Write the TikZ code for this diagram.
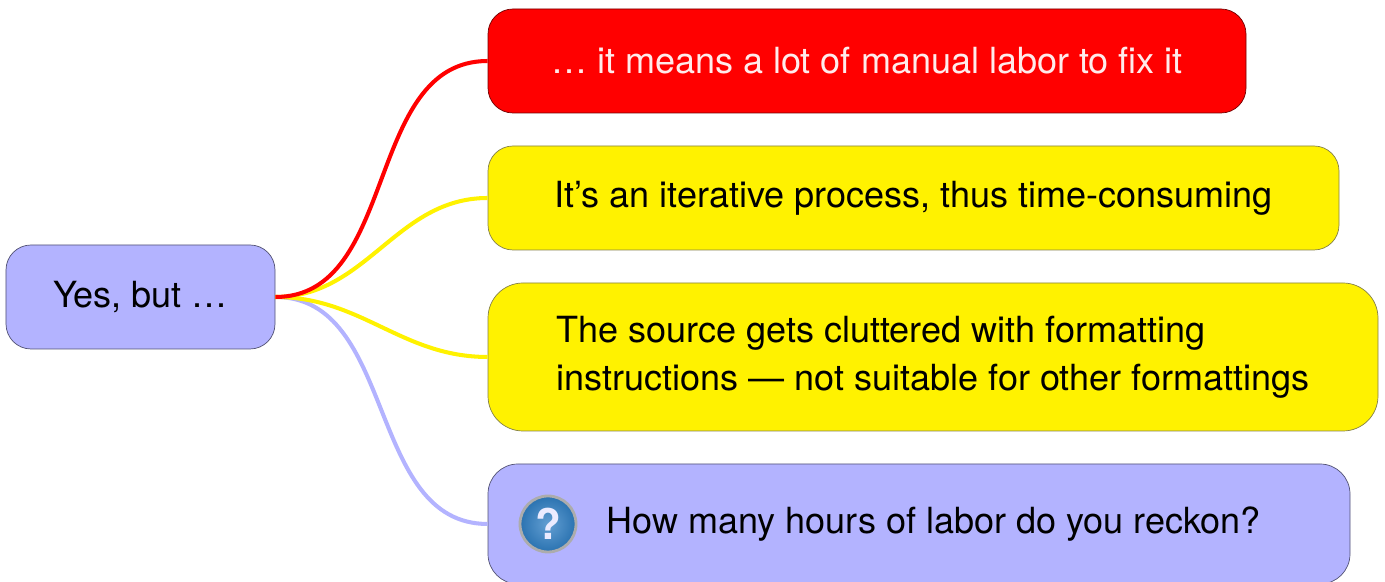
\documentclass[tikz,border=0pt]{standalone}
\usepackage{fontspec}
\setmainfont{TeX Gyre Heros}
\usepackage{xcolor}
\usetikzlibrary{positioning}
\definecolor{lavender}{HTML}{B3B3FF}
\definecolor{iconblue}{HTML}{2F7FC4}
\tikzset{
  every node/.style={font=\fontsize{20.5}{27.3}\selectfont},
  topic/.style={rounded corners=0.5cm,minimum height=2.08cm,inner sep=0pt,align=left},
  redtopic/.style={topic,fill=red,draw=red!45!black,text=white!92!red},
  yellowtopic/.style={topic,fill=yellow,draw=yellow!45!black},
  bluetopic/.style={topic,fill=lavender,draw=lavender!45!black},
  branch/.style={line width=2.3pt,out=0,in=180}
}
\begin{document}
\begin{tikzpicture}
  \useasboundingbox (0,0) rectangle (27.7,11.64);
  \node[bluetopic,minimum width=5.38cm] (yes) at (2.81,5.70) {Yes, but …};
  \node[redtopic,minimum width=15.16cm] (labor) at (17.34,10.42) {… it means a lot of manual labor to fix it};
  \node[yellowtopic,minimum width=17.02cm] (iter) at (18.27,7.68) {It’s an iterative process, thus time-consuming};
  \node[yellowtopic,minimum width=17.8cm,minimum height=2.96cm,rounded corners=0.7cm] (source) at (18.66,4.50) {The source gets cluttered with formatting\\instructions — not suitable for other formattings};
  \begin{scope}
    \clip (0,0) rectangle (27.7,11.64);
    \node[bluetopic,minimum width=17.24cm,minimum height=2.4cm,rounded corners=0.6cm] (hours) at (18.38,1.16) {};
  \end{scope}
  \node[circle,minimum size=1.12cm,inner sep=0pt,inner color=iconblue!75!white,outer color=iconblue!90!black,draw=gray!65,line width=1.6pt,text=white!92!blue] (help) at (10.96,1.16) {\fontsize{24}{24}\selectfont\bfseries ?};
  \node[right=0.58cm of help,inner sep=0pt] (reckon) {How many hours of labor do you reckon?};
  \draw[branch,lavender] (yes.east) to (hours.west);
  \draw[branch,yellow] (yes.east) to (source.west);
  \draw[branch,yellow] (yes.east) to (iter.west);
  \draw[branch,red] (yes.east) to (labor.west);
\end{tikzpicture}
\end{document}
